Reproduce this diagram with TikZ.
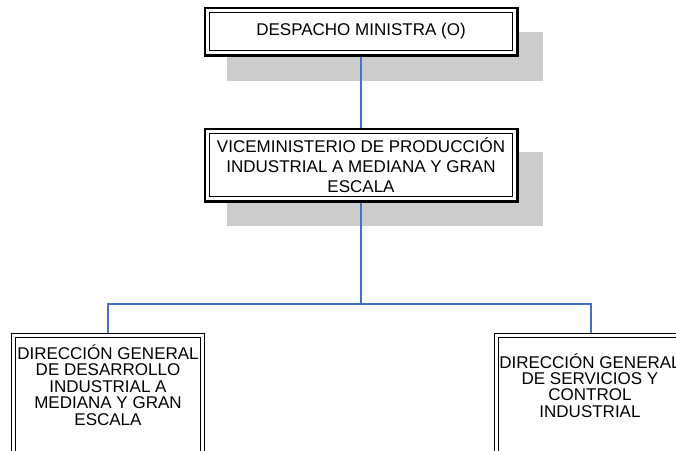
\documentclass[tikz,border=0pt]{standalone}
\usepackage{fontspec}
\setmainfont{Liberation Sans}
\definecolor{shadowgray}{HTML}{CCCCCC}
\definecolor{linkblue}{HTML}{4472C4}
\begin{document}
\begin{tikzpicture}[x=1pt,y=-1pt,
  shadowbox/.style={fill=shadowgray, draw=none, inner sep=0pt, minimum width=316pt, anchor=north west},
  frame/.style={fill=white, draw=none, inner sep=0pt, rectangle, align=center,
                font=\fontsize{17}{20}\selectfont},
  outerthick/.style={line width=2.6pt},
  innerthin/.style={line width=0.8pt},
  dirline/.style={line width=1.3pt},
  link/.style={draw=linkblue, line width=1.3pt},
  dirtext/.style={align=center, inner sep=0pt, font=\fontsize{17}{16.4}\selectfont}
]
\useasboundingbox (0,0) rectangle (676,450);
\clip (0,0) rectangle (676,450);
% shadows
\node[shadowbox, minimum height=49pt] (sh1) at (227,32) {};
\node[shadowbox, minimum height=74pt] (sh2) at (227,152) {};
% boxes (invisible placeholders for anchors)
\node[frame, minimum width=312pt, minimum height=47pt] (des) at (361,31.5) {};
\node[frame, minimum width=312pt, minimum height=72pt] (vice) at (361,165) {};
\node[frame, minimum width=192.6pt, minimum height=140pt, anchor=north] (dgl) at (108,333.7) {};
\node[frame, minimum width=192.6pt, minimum height=140pt, anchor=north] (dgs) at (591,333.7) {};
\coordinate (j) at (361,304);
% connectors
\draw[link] (des.south) -- (vice.north);
\draw[link] (vice.south) -- (j);
\draw[link] (dgl.north) |- (j) -| (dgs.north);
% top box
\node[frame, minimum width=312pt, minimum height=47pt] at (des) {DESPACHO MINISTRA (O)};
\draw[outerthick] (des.north west) rectangle (des.south east);
\draw[innerthin] ([xshift=4.5pt,yshift=-4.5pt]des.north west) rectangle ([xshift=-4.5pt,yshift=4.5pt]des.south east);
% middle box
\node[frame, minimum width=312pt, minimum height=72pt] at (vice) {VICEMINISTERIO DE PRODUCCIÓN\\INDUSTRIAL A MEDIANA Y GRAN\\ESCALA};
\draw[outerthick] (vice.north west) rectangle (vice.south east);
\draw[innerthin] ([xshift=4.5pt,yshift=-4.5pt]vice.north west) rectangle ([xshift=-4.5pt,yshift=4.5pt]vice.south east);
% bottom boxes
\fill[white] (dgl.north west) rectangle (dgl.south east);
\draw[dirline] (dgl.north west) rectangle (dgl.south east);
\draw[dirline] ([xshift=4pt,yshift=-4pt]dgl.north west) rectangle ([xshift=-4pt,yshift=4pt]dgl.south east);
\fill[white] (dgs.north west) rectangle (dgs.south east);
\draw[dirline] (dgs.north west) rectangle (dgs.south east);
\draw[dirline] ([xshift=4pt,yshift=-4pt]dgs.north west) rectangle ([xshift=-4pt,yshift=4pt]dgs.south east);
\node[dirtext] (dglt) at (108,385) {DIRECCIÓN GENERAL\\DE DESARROLLO\\INDUSTRIAL A\\MEDIANA Y GRAN\\ESCALA};
\node[dirtext] (dgst) at (590,385.5) {DIRECCIÓN GENERAL\\DE SERVICIOS Y\\CONTROL\\INDUSTRIAL};
\end{tikzpicture}
\end{document}
